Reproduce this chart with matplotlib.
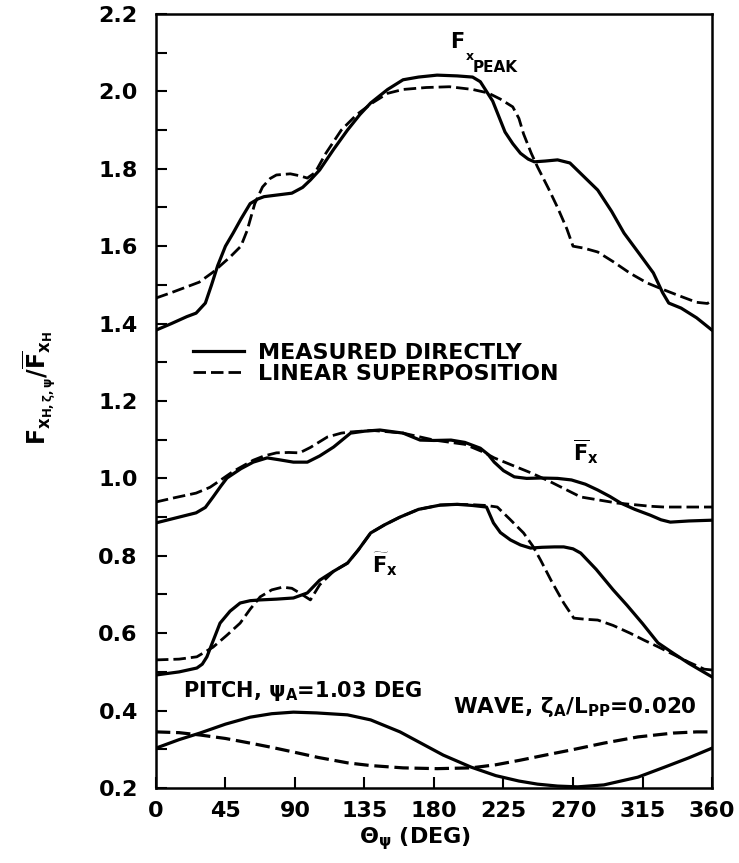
import matplotlib
matplotlib.use('Agg')
import matplotlib.pyplot as plt
from matplotlib.ticker import MultipleLocator, FormatStrFormatter

# F_x peak curves
peak_meas_x = [0, 10, 20, 26, 32, 36, 40, 45, 50, 55, 61, 66, 70, 80, 88, 95, 100, 106, 115,
               124, 132, 139, 150, 160, 170, 182, 195, 205, 210, 214, 218, 222, 226, 231, 236,
               241, 245, 252, 260, 268, 277, 286, 295, 303, 313, 322, 328, 332, 340, 350, 360]
peak_meas_y = [1.383, 1.40, 1.418, 1.427, 1.453, 1.50, 1.55, 1.60, 1.634, 1.67, 1.71, 1.722,
               1.728, 1.733, 1.737, 1.752, 1.771, 1.797, 1.85, 1.90, 1.94, 1.97, 2.005, 2.03,
               2.037, 2.042, 2.04, 2.037, 2.025, 2.00, 1.975, 1.935, 1.895, 1.865, 1.84, 1.825,
               1.818, 1.82, 1.823, 1.815, 1.78, 1.745, 1.69, 1.634, 1.58, 1.531, 1.48, 1.453,
               1.44, 1.415, 1.383]
peak_lin_x = [0, 10, 20, 28, 37, 48, 55, 59, 64, 69, 74, 78, 87, 93, 98, 103, 110, 120, 130,
              140, 150, 160, 175, 190, 205, 215, 223, 231, 235, 238, 243, 247, 254, 260, 266,
              270, 277, 286, 296, 307, 318, 329, 340, 350, 357, 360]
peak_lin_y = [1.466, 1.48, 1.495, 1.507, 1.533, 1.572, 1.60, 1.64, 1.71, 1.753, 1.775, 1.784,
              1.787, 1.782, 1.776, 1.79, 1.84, 1.90, 1.94, 1.97, 1.995, 2.005, 2.01, 2.012,
              2.005, 1.996, 1.98, 1.96, 1.93, 1.89, 1.84, 1.805, 1.75, 1.70, 1.645, 1.60,
              1.595, 1.585, 1.56, 1.53, 1.505, 1.487, 1.47, 1.455, 1.452, 1.46]

# mean F_x curves
mean_meas_x = [0, 12, 26, 32, 37, 42, 46, 55, 63, 72, 80, 89, 98, 106, 115, 126, 135, 145, 160,
               171, 180, 191, 200, 210, 215, 219, 225, 232, 240, 249, 260, 269, 278, 286, 294,
               301, 310, 320, 327, 333, 345, 360]
mean_meas_y = [0.885, 0.897, 0.911, 0.925, 0.952, 0.98, 1.001, 1.025, 1.042, 1.053, 1.048,
               1.042, 1.042, 1.058, 1.081, 1.117, 1.122, 1.125, 1.117, 1.099, 1.098, 1.099,
               1.093, 1.078, 1.062, 1.042, 1.02, 1.004, 1.0, 1.001, 1.0, 0.996, 0.985, 0.97,
               0.953, 0.936, 0.92, 0.905, 0.893, 0.887, 0.89, 0.892]
mean_lin_x = [0, 12, 26, 35, 42, 50, 63, 70, 78, 86, 93, 100, 111, 120, 126, 140, 160, 180,
              200, 212, 219, 230, 243, 255, 265, 275, 287, 299, 310, 320, 329, 340, 350, 360]
mean_lin_y = [0.939, 0.95, 0.962, 0.977, 0.996, 1.018, 1.047, 1.058, 1.066, 1.067, 1.066, 1.08,
              1.107, 1.117, 1.12, 1.124, 1.117, 1.099, 1.088, 1.068, 1.053, 1.035, 1.014,
              0.992, 0.972, 0.952, 0.944, 0.936, 0.932, 0.928, 0.926, 0.926, 0.926, 0.926]

# oscillating F_x curves
osc_meas_x = [0, 15, 26.5, 30, 33, 37, 41.5, 48, 54.5, 61, 67.5, 78, 89, 98, 106, 115, 124, 131,
              139, 148, 158, 170, 184, 195, 205, 214, 218.5, 223, 229.5, 236, 242.5, 250, 258,
              264, 270, 275, 285, 296, 305, 315, 325, 335, 345, 360]
osc_meas_y = [0.492, 0.50, 0.51, 0.52, 0.539, 0.58, 0.626, 0.657, 0.678, 0.684, 0.686, 0.688,
              0.691, 0.704, 0.737, 0.76, 0.781, 0.815, 0.859, 0.88, 0.90, 0.92, 0.931, 0.933,
              0.93, 0.926, 0.885, 0.86, 0.841, 0.828, 0.82, 0.822, 0.823, 0.823, 0.818, 0.807,
              0.765, 0.712, 0.672, 0.625, 0.575, 0.548, 0.522, 0.487]
osc_lin_x = [0, 15, 26.5, 37, 46, 54.5, 61, 67.5, 75, 82, 88, 93, 100, 106, 115, 124, 131, 139,
             148, 158, 170, 184, 195, 205, 214, 221, 229, 238, 244, 249, 256, 264, 270.5, 278,
             286, 296, 307, 316, 325, 335, 345, 355, 360]
osc_lin_y = [0.531, 0.533, 0.539, 0.564, 0.595, 0.626, 0.662, 0.694, 0.712, 0.719, 0.716, 0.704,
             0.686, 0.725, 0.76, 0.781, 0.815, 0.859, 0.88, 0.90, 0.92, 0.931, 0.933, 0.932,
             0.93, 0.926, 0.895, 0.859, 0.825, 0.789, 0.735, 0.678, 0.639, 0.636, 0.634, 0.62,
             0.60, 0.582, 0.565, 0.545, 0.525, 0.507, 0.505]

# pitch and wave motions
pitch_x = [0, 15, 28.5, 45, 61, 75, 89, 104, 124, 139, 158, 172, 186, 204, 220, 235, 247, 260,
           273, 290, 312, 330, 345, 360]
pitch_y = [0.303, 0.325, 0.342, 0.365, 0.383, 0.392, 0.396, 0.394, 0.389, 0.376, 0.345, 0.315,
           0.285, 0.254, 0.232, 0.218, 0.21, 0.205, 0.203, 0.208, 0.228, 0.255, 0.278, 0.303]
wave_x = [0, 15, 28.5, 45, 61, 75, 89, 105, 124, 139, 160, 182, 204, 220, 236, 252, 268.5, 290,
          312, 335, 350, 360]
wave_y = [0.345, 0.343, 0.337, 0.328, 0.316, 0.305, 0.293, 0.279, 0.265, 0.258, 0.252, 0.25,
          0.252, 0.26, 0.272, 0.285, 0.298, 0.316, 0.332, 0.342, 0.345, 0.345]

legend_labels = ['MEASURED DIRECTLY', 'LINEAR SUPERPOSITION']

plt.rcParams['font.family'] = 'DejaVu Sans'
plt.rcParams['font.weight'] = 'bold'
plt.rcParams['axes.labelweight'] = 'bold'
plt.rcParams['mathtext.fontset'] = 'dejavusans'
plt.rcParams['mathtext.default'] = 'bf'

fig = plt.figure(figsize=(7.39, 8.63), dpi=100)
ax = fig.add_axes([0.211, 0.0869, 0.7525, 0.8969])

lw = 2.3
dash = (4.5, 1.8)

h1, = ax.plot(peak_meas_x, peak_meas_y, 'k-', lw=lw)
h2, = ax.plot(peak_lin_x, peak_lin_y, 'k--', lw=2.0, dashes=dash)
ax.plot(mean_meas_x, mean_meas_y, 'k-', lw=lw)
ax.plot(mean_lin_x, mean_lin_y, 'k--', lw=2.0, dashes=dash)
ax.plot(osc_meas_x, osc_meas_y, 'k-', lw=lw)
ax.plot(osc_lin_x, osc_lin_y, 'k--', lw=2.0, dashes=dash)
ax.plot(pitch_x, pitch_y, 'k-', lw=lw)
ax.plot(wave_x, wave_y, 'k--', lw=2.3, dashes=dash)

ax.set_xlim(0, 360)
ax.set_ylim(0.2, 2.2)
ax.set_xticks(range(0, 361, 45))
ax.yaxis.set_major_locator(MultipleLocator(0.2))
ax.yaxis.set_minor_locator(MultipleLocator(0.1))
ax.yaxis.set_major_formatter(FormatStrFormatter('%.1f'))
ax.tick_params(axis='both', which='both', direction='in', length=8, width=1.5,
               labelsize=16, top=False, right=False)
ax.tick_params(axis='y', pad=13)
ax.tick_params(axis='x', pad=9)
for s in ax.spines.values():
    s.set_linewidth(1.8)

ax.set_xlabel(r'$\Theta_\psi$ (DEG)', fontsize=16)
ax.xaxis.set_label_coords(0.466, -0.048)
ax.set_ylabel(r'$F_{x_{H,\zeta,\psi}}/\overline{F}_{x_H}$', fontsize=17)
ax.yaxis.set_label_coords(-0.175, 0.517)

ax.legend(handles=[h1, h2], labels=legend_labels, loc='upper left',
          bbox_to_anchor=(0.0665, 0.575), frameon=False, fontsize=16,
          handlelength=2.3, handletextpad=0.65, labelspacing=0.05,
          borderpad=0, borderaxespad=0)

ax.text(190.7, 2.112, 'F', fontsize=15)
ax.text(200.4, 2.081, 'x', fontsize=9)
ax.text(205, 2.05, 'PEAK', fontsize=11)
ax.text(270, 1.047, r'$\overline{F}_x$', fontsize=15)
ax.text(140, 0.756, r'$\widetilde{F}_x$', fontsize=15)
ax.text(17.5, 0.435, r'PITCH, $\psi_A$=1.03 DEG', fontsize=15)
ax.text(192, 0.394, r'WAVE, $\zeta_A$/L$_{PP}$=0.020', fontsize=15.5)

fig.savefig('out.png', dpi=100)
